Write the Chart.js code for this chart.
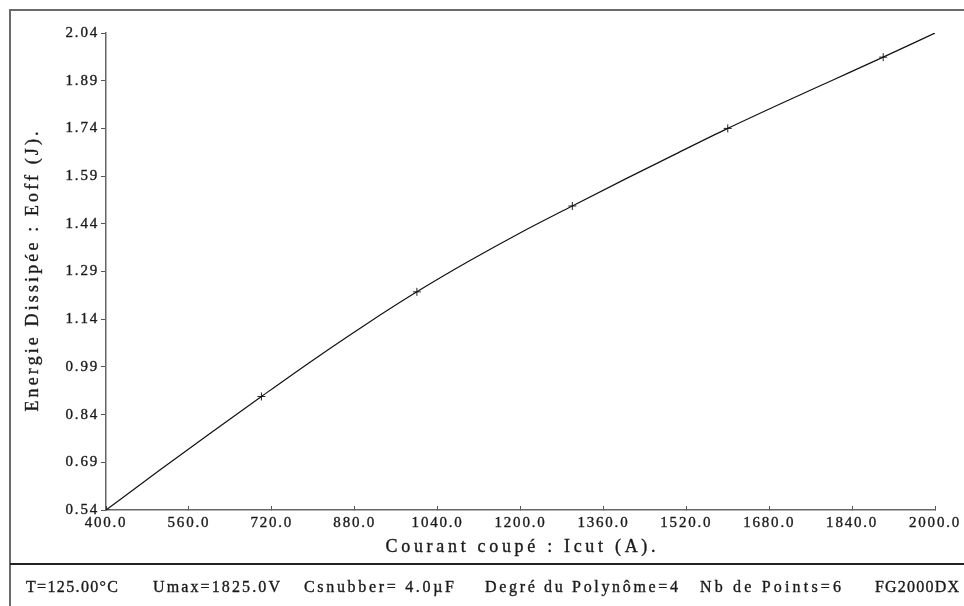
<!DOCTYPE html>
<html>
<head>
<meta charset="utf-8">
<script src="https://cdn.jsdelivr.net/npm/chart.js@4.4.0/dist/chart.umd.min.js"></script>
<style>
  html, body { margin: 0; padding: 0; background: #fff; }
  #wrap { width: 964px; height: 606px; position: relative; }
</style>
</head>
<body>
<div id="wrap"><canvas id="eoffChart" width="964" height="606"></canvas></div>
<script>
// courbe polynomiale (degré 4), tous les 100 A
const curveI = [400, 500, 600, 700, 800, 900, 1000, 1100, 1200, 1300, 1400, 1500, 1600, 1700, 1800, 1900, 2000];
const curveE = [0.540, 0.661, 0.780, 0.897, 1.012, 1.122, 1.226, 1.322, 1.412, 1.496, 1.579, 1.660, 1.740, 1.816, 1.890, 1.964, 2.040];

// points de mesure
const mesI = [400, 700, 1000, 1300, 1600, 1900];
const mesE = [0.540, 0.897, 1.226, 1.496, 1.740, 1.964];

const xTicks = [400, 560, 720, 880, 1040, 1200, 1360, 1520, 1680, 1840, 2000];
const yTicks = [0.54, 0.69, 0.84, 0.99, 1.14, 1.29, 1.44, 1.59, 1.74, 1.89, 2.04];

const xTitle = 'Courant coupé : Icut (A).';
const yTitle = 'Energie Dissipée : Eoff (J).';

// [texte, x de départ, largeur]
const infoLine = [
  ['T=125.00°C', 26, 92],
  ['Umax=1825.0V', 153, 127],
  ['Csnubber= 4.0µF', 304, 150],
  ['Degré du Polynôme=4', 485, 193],
  ['Nb de Points=6', 700, 141],
  ['FG2000DX', 875, 84]
];

const FONT = "'Liberation Serif', 'Times New Roman', serif";
const INK = '#1a1a1a';

// texte étiré à une largeur donnée par l'espacement des lettres
function drawSpaced(ctx, text, x, y, width) {
  ctx.letterSpacing = '0px';
  const n = [...text].length;
  const natural = ctx.measureText(text).width;
  ctx.letterSpacing = ((width - natural) / (n - 1)) + 'px';
  ctx.textAlign = 'left';
  ctx.fillText(text, x, y);
  ctx.strokeText(text, x, y);
}

// cadre, titres des axes et ligne d'information
const framePlugin = {
  id: 'frame',
  beforeDraw(chart) {
    const ctx = chart.ctx;
    ctx.save();
    ctx.fillStyle = '#fff';
    ctx.fillRect(0, 0, chart.width, chart.height);
    ctx.restore();
    ctx.letterSpacing = '1.8px';
  },
  afterDraw(chart) {
    const ctx = chart.ctx;
    const area = chart.chartArea;
    ctx.save();
    ctx.letterSpacing = '0px';
    ctx.strokeStyle = '#6a6a6a';
    ctx.lineWidth = 2;
    ctx.beginPath();
    ctx.moveTo(10, chart.height);
    ctx.lineTo(10, 10);
    ctx.lineTo(chart.width, 10);
    ctx.stroke();
    ctx.strokeStyle = '#222';
    ctx.beginPath();
    ctx.moveTo(10, 564);
    ctx.lineTo(chart.width, 564);
    ctx.stroke();

    ctx.fillStyle = INK;
    ctx.strokeStyle = INK;
    ctx.lineWidth = 0.35;
    ctx.textBaseline = 'middle';

    ctx.font = '18px ' + FONT;
    const xW = 270;
    drawSpaced(ctx, xTitle, (area.left + area.right) / 2 - xW / 2, 547, xW);

    const yW = 280;
    ctx.save();
    ctx.translate(33, (area.top + area.bottom) / 2);
    ctx.rotate(-Math.PI / 2);
    drawSpaced(ctx, yTitle, -yW / 2, 0, yW);
    ctx.restore();

    ctx.font = '16px ' + FONT;
    infoLine.forEach(([txt, x, w]) => drawSpaced(ctx, txt, x, 588, w));
    ctx.restore();
  }
};

const ctx = document.getElementById('eoffChart').getContext('2d');
const chart = new Chart(ctx, {
  type: 'scatter',
  data: {
    datasets: [{
      data: curveI.map((v, i) => ({x: v, y: curveE[i]})),
      showLine: true,
      borderColor: '#111',
      borderWidth: 1.2,
      pointRadius: 0,
      cubicInterpolationMode: 'monotone'
    }, {
      data: mesI.map((v, i) => ({x: v, y: mesE[i]})),
      showLine: false,
      pointStyle: 'cross',
      pointRadius: 4,
      borderColor: '#222',
      borderWidth: 1,
      backgroundColor: '#222'
    }]
  },
  options: {
    responsive: false,
    animation: false,
    layout: { padding: { left: 10, top: 33, right: 29, bottom: 44 } },
    plugins: { legend: { display: false }, tooltip: { enabled: false } },
    scales: {
      x: {
        type: 'linear',
        min: 400, max: 2000,
        afterBuildTicks: s => { s.ticks = xTicks.map(v => ({value: v})); },
        afterFit: s => { s.height = 52; s.paddingLeft = 0; s.paddingRight = 0; },
        border: { display: true, color: '#666', width: 1.5 },
        grid: { drawOnChartArea: false, drawTicks: true, tickLength: -4, color: '#555' },
        ticks: {
          maxRotation: 0, autoSkip: false, padding: 8,
          color: INK, textStrokeColor: INK, textStrokeWidth: 0.35,
          font: { family: FONT, size: 15 },
          callback: v => v.toFixed(1)
        }
      },
      y: {
        type: 'linear',
        min: 0.54, max: 2.04,
        afterBuildTicks: s => { s.ticks = yTicks.map(v => ({value: v})); },
        afterFit: s => { s.width = 96; s.paddingTop = 0; s.paddingBottom = 0; },
        border: { display: true, color: '#666', width: 1.5 },
        grid: { drawOnChartArea: false, drawTicks: true, tickLength: 5, color: '#555' },
        ticks: {
          autoSkip: false, padding: 2,
          color: INK, textStrokeColor: INK, textStrokeWidth: 0.35,
          font: { family: FONT, size: 15 },
          callback: v => v.toFixed(2)
        }
      }
    }
  },
  plugins: [framePlugin]
});
</script>
</body>
</html>
